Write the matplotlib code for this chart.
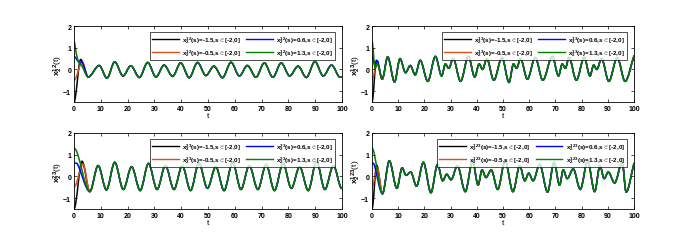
import numpy as np
import matplotlib
matplotlib.use('Agg')
import matplotlib.pyplot as plt
from matplotlib.path import Path
from matplotlib.patches import PathPatch

plt.rcParams['font.family'] = ['Liberation Sans', 'DejaVu Sans']
plt.rcParams['mathtext.fontset'] = 'custom'
plt.rcParams['mathtext.rm'] = 'Liberation Sans:bold'
plt.rcParams['mathtext.it'] = 'Liberation Sans:bold'

# colours (MATLAB defaults)
C_BLACK = '#000000'
C_BLUE = '#0000ff'
C_ORANGE = '#d95319'
C_GREEN = '#007f00'

init_values = ['-1.5', '-0.5', '0.6', '1.3']

# turning points (t, value)
# ---- panel x2^12 ----
t_black_12, v_black_12 = [0, 2.5], [-1.5, 0.46]
t_orange_12, v_orange_12 = [0, 3.1], [-0.5, 0.34]
t_blue_12, v_blue_12 = [0, 1.6, 2.0, 2.8], [0.6, 0.36, 0.33, 0.35]
t_green_12, v_green_12 = [0, 0.9, 1.7, 2.8], [1.3, 0.7, 0.35, 0.2]
t_tail_12 = [5.3, 9.4, 12.3, 15.2, 18.3, 21.2, 24.4, 27.5, 30.6, 33.6, 36.8,
             39.8, 43.0, 46.1, 49.2, 52.2, 55.4, 58.6, 61.7, 64.7, 67.9, 71.0,
             74.2, 77.3, 80.5, 83.6, 86.7, 89.9, 93.0, 96.1, 99.3, 100]
v_tail_12 = [-0.35, 0.18, -0.4, 0.35, -0.3, 0.17, -0.37, 0.32, -0.35, 0.2,
             -0.32, 0.3, -0.38, 0.32, -0.28, 0.15, -0.38, 0.33, -0.3, 0.18,
             -0.36, 0.3, -0.36, 0.3, -0.3, 0.15, -0.37, 0.36, -0.3, 0.2,
             -0.36, -0.34]

# ---- panel x2^13 ----
t_black_13, v_black_13 = [0, 1.7], [-1.5, 0.42]
t_orange_13, v_orange_13 = [0, 1.9], [-0.5, 0.32]
t_blue_13, v_blue_13 = [0, 1.1, 2.0], [0.6, 0.2, 0.4]
t_green_13, v_green_13 = [0, 1.2, 2.2], [1.3, 0.05, 0.25]
t_tail_13 = [3.9, 6.0, 8.6, 10.7, 12.8, 14.6, 16.5, 18.4, 21.3, 24.2, 26.6,
             28.0, 29.3, 31.0, 33.8, 36.8, 39.2, 40.9, 42.2, 43.8, 46.5, 49.6,
             52.3, 54.0, 55.2, 56.7, 59.3, 62.3, 65.2, 68.8, 71.2, 72.6, 73.8,
             75.2, 78.0, 81.0, 83.2, 84.6, 85.8, 87.6, 90.4, 93.6, 96.6, 100]
v_tail_13 = [-0.45, 0.58, -0.58, 0.5, -0.15, 0.18, -0.25, 0.42, -0.55, 0.6,
             -0.3, 0.25, 0.05, 0.5, -0.55, 0.6, -0.35, 0.25, 0.0, 0.5, -0.5,
             0.55, -0.6, 0.25, 0.05, 0.5, -0.45, 0.55, -0.5, 0.6, -0.3, 0.25,
             0.05, 0.55, -0.5, 0.55, -0.3, 0.2, 0.0, 0.5, -0.55, 0.55, -0.55,
             0.62]

# ---- panel x2^23 ----
t_black_23, v_black_23 = [0, 3.0], [-1.5, 0.7]
t_orange_23, v_orange_23 = [0, 3.4], [-0.5, 0.56]
t_blue_23, v_blue_23 = [0, 1.3], [0.6, 0.56]
t_green_23, v_green_23 = [0], [1.3]
t_tail_23 = [5.9, 9.0, 12.1, 15.2, 18.4, 21.5, 24.7, 27.8, 31.0, 34.1, 37.3,
             40.4, 43.5, 46.6, 49.8, 52.9, 56.0, 59.2, 62.3, 65.4, 68.6, 71.7,
             74.8, 78.0, 81.1, 84.2, 87.4, 90.5, 93.6, 96.8, 99.9, 100]
v_tail_23 = [-0.7, 0.5, -0.62, 0.65, -0.6, 0.45, -0.65, 0.6, -0.6, 0.5,
             -0.6, 0.5, -0.65, 0.62, -0.55, 0.45, -0.65, 0.65, -0.6, 0.5,
             -0.6, 0.55, -0.65, 0.6, -0.55, 0.45, -0.65, 0.7, -0.6, 0.5,
             -0.55, -0.55]

# ---- panel x2^123 ----
t_black_123, v_black_123 = [0, 1.8], [-1.5, 0.52]
t_orange_123, v_orange_123 = [0, 2.0], [-0.5, 0.4]
t_blue_123, v_blue_123 = [0, 0.8], [0.6, 0.55]
t_green_123, v_green_123 = [0], [1.3]
t_tail_123 = [4.0, 6.6, 9.5, 11.5, 13.0, 14.8, 17.0, 19.6, 22.5, 25.0, 27.0,
              28.5, 30.2, 32.6, 35.6, 38.4, 40.5, 42.0, 43.5, 45.5, 48.0,
              50.8, 53.8, 56.4, 58.3, 59.8, 61.5, 64.0, 67.0, 69.5, 71.6,
              73.0, 74.5, 76.8, 79.5, 82.3, 85.0, 87.0, 88.6, 90.2, 92.6,
              95.5, 97.0, 100]
v_tail_123 = [-0.8, 0.72, -0.55, 0.4, 0.05, 0.2, -0.45, 0.65, -0.75, 0.55,
              -0.2, 0.1, -0.15, 0.5, -0.7, 0.7, -0.4, 0.3, -0.05, 0.3, -0.6,
              0.72, -0.7, 0.5, -0.2, 0.15, -0.2, 0.55, -0.72, 0.65, -0.4,
              0.3, -0.1, 0.35, -0.6, 0.7, -0.7, 0.5, -0.1, 0.2, -0.3, 0.65,
              -0.72, 0.6]

panels = [
    ('12', [(t_black_12, v_black_12), (t_orange_12, v_orange_12),
            (t_blue_12, v_blue_12), (t_green_12, v_green_12)],
     t_tail_12, v_tail_12),
    ('13', [(t_black_13, v_black_13), (t_orange_13, v_orange_13),
            (t_blue_13, v_blue_13), (t_green_13, v_green_13)],
     t_tail_13, v_tail_13),
    ('23', [(t_black_23, v_black_23), (t_orange_23, v_orange_23),
            (t_blue_23, v_blue_23), (t_green_23, v_green_23)],
     t_tail_23, v_tail_23),
    ('123', [(t_black_123, v_black_123), (t_orange_123, v_orange_123),
             (t_blue_123, v_blue_123), (t_green_123, v_green_123)],
     t_tail_123, v_tail_123),
]
colors = [C_BLACK, C_ORANGE, C_BLUE, C_GREEN]


def smooth_path(t, v):
    ''' Bezier path through the read points, flat at turning points '''
    t = np.asarray(t, float)
    v = np.asarray(v, float)
    n = len(t)
    m = np.zeros(n)
    for i in range(1, n - 1):
        if (v[i] - v[i - 1]) * (v[i + 1] - v[i]) > 0:
            m[i] = (v[i + 1] - v[i - 1]) / (t[i + 1] - t[i - 1])
    m[-1] = (v[-1] - v[-2]) / (t[-1] - t[-2])
    verts = [(t[0], v[0])]
    codes = [Path.MOVETO]
    for i in range(1, n):
        d = (t[i] - t[i - 1]) / 3.0
        verts += [(t[i - 1] + d, v[i - 1] + m[i - 1] * d),
                  (t[i] - d, v[i] - m[i] * d), (t[i], v[i])]
        codes += [Path.CURVE4] * 3
    return Path(verts, codes)


# axes rectangles in pixels (left, top, right, bottom)
W, H = 700, 253
boxes = [(74, 27, 342, 103), (372, 27, 634, 103),
         (74, 134, 342, 210), (372, 134, 634, 210)]

fig = plt.figure(figsize=(7.0, 2.53), dpi=100)

for (name, starts, tt, vt), (x0, y0, x1, y1) in zip(panels, boxes):
    ax = fig.add_axes([x0 / W, 1 - y1 / H, (x1 - x0) / W, (y1 - y0) / H])
    handles = []
    for (ts, vs), col, lab in zip(starts, colors, init_values):
        path = smooth_path(list(ts) + list(tt), list(vs) + list(vt))
        ax.add_patch(PathPatch(path, fill=False, edgecolor=col, lw=1.1,
                               capstyle='round', joinstyle='round'))
        ln, = ax.plot([], [], color=col, lw=1.0,
                      label=r'$x_2^{%s}$(s)=%s,s$\in$[-2,0]' % (name, lab))
        handles.append(ln)
    ax.set_xlim(0, 100)
    ax.set_ylim(-1.5, 2)
    ax.set_xticks(np.arange(0, 101, 10))
    ax.set_yticks([-1, 0, 1, 2])
    ax.tick_params(direction='in', length=2, width=0.5, labelsize=5,
                   top=True, right=True, pad=2)
    for lbl in ax.get_xticklabels() + ax.get_yticklabels():
        lbl.set_fontweight('bold')
    for sp in ax.spines.values():
        sp.set_linewidth(0.6)
    ax.set_xlabel('t', fontsize=6, labelpad=0)
    ax.set_ylabel(r'$x_2^{%s}$(t)' % name, fontsize=6, labelpad=-1)
    leg = ax.legend(handles=handles, ncol=2, loc='upper right',
                    prop={'size': 4.5, 'weight': 'bold'},
                    frameon=True, fancybox=False, edgecolor='black',
                    handlelength=4.3, handletextpad=0.5, columnspacing=0.8,
                    borderpad=0.35, labelspacing=0.25,
                    bbox_to_anchor=(0.985, 0.96))
    leg.get_frame().set_linewidth(0.6)

fig.savefig('out.png', dpi=100)
